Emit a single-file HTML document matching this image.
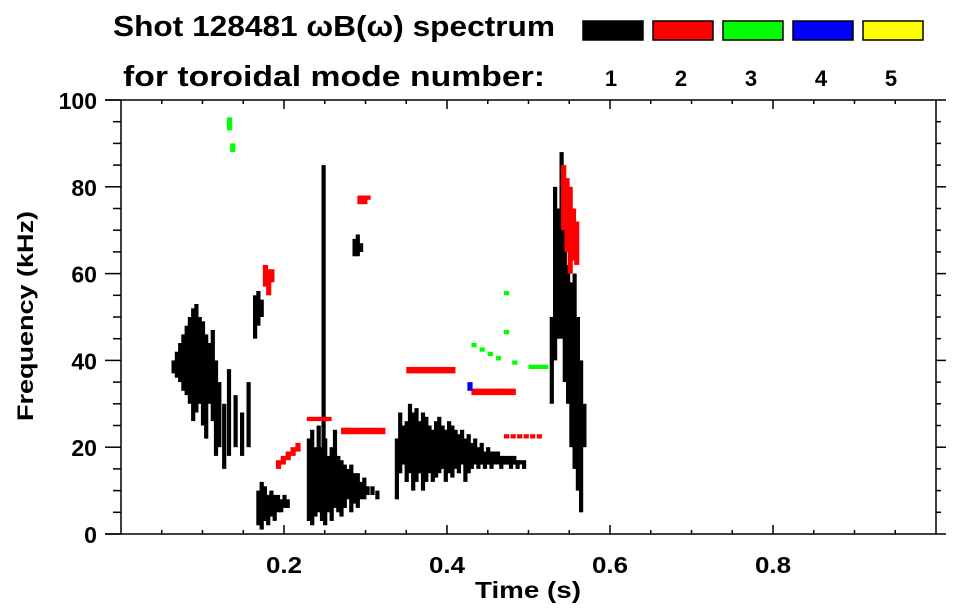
<!DOCTYPE html>
<html><head><meta charset="utf-8"><style>
body{margin:0;background:#fff;}
svg{display:block;font-family:"Liberation Sans",sans-serif;font-weight:bold;}
</style></head><body>
<svg id="c" width="963" height="615"></svg>
<script>
// columns: time (s), low freq (kHz), high freq (kHz), toroidal mode
const times = [0.062,0.066,0.070,0.074,0.078,0.082,0.086,0.090,0.094,0.098,0.102,0.106,0.110,0.114,0.118,0.124,0.130,0.138,0.146,0.154,0.162,0.166,0.170,
0.166,0.170,0.174,0.178,0.182,0.186,0.190,0.194,0.198,0.202,
0.228,0.232,0.236,0.240,0.244,0.248,0.252,0.256,0.260,0.264,0.268,0.272,0.276,0.280,0.284,0.288,0.292,0.296,0.300,0.306,0.312,
0.246,0.284,0.288,0.292,
0.336,0.340,0.344,0.348,0.352,0.356,0.360,0.364,0.368,0.372,0.376,0.380,0.384,0.388,0.392,0.396,0.400,0.404,0.408,0.412,0.416,0.420,0.424,0.428,0.432,0.436,0.440,0.444,0.448,0.452,0.456,0.460,0.464,0.468,0.472,0.476,0.480,0.484,0.488,0.492,
0.526,0.530,0.534,0.538,0.542,0.546,0.550,0.554,0.558,0.562,0.566,
0.174,0.178,0.182,0.290,0.296,0.300,
0.270,0.276,0.282,0.288,0.294,0.300,0.306,0.312,0.318,
0.350,0.356,0.362,0.368,0.374,0.380,0.386,0.392,0.398,0.404,
0.430,0.436,0.442,0.448,0.454,0.460,0.466,0.472,0.478,
0.228,0.234,0.240,0.246,0.252,0.470,0.478,0.486,0.494,0.502,0.510,
0.190,0.196,0.202,0.208,0.214,
0.540,0.544,0.548,0.552,0.556,
0.130,0.134,0.430,0.440,0.450,0.460,0.470,0.480,0.500,0.506,0.512,0.518,0.470,
0.425];
const freqLow = [37,36,35,33,32,30,26,28,30,25,22,30,26,18,20,15,18,20,18,20,45,48,50,
2,1,3,2,4,3,5,5,6,6,
3,2,4,5,3,2,5,3,6,5,4,6,8,5,7,6,8,8,9,9,8,
3,64,64,65,
8,14,16,12,14,10,12,14,10,12,14,12,13,14,15,12,14,13,15,14,16,12,14,15,16,15,16,15,16,15,16,16,15,16,16,15,16,15,16,15,
30,40,45,45,35,30,20,15,10,5,20,
57,55,58,76,76,77,
23,23,23,23,23,23,23,23,23,
37,37,37,37,37,37,37,37,37,37,
32,32,32,32,32,32,32,32,32,
26,26,26,26,26,22,22,22,22,22,22,
15,16,17,18,19,
70,65,60,63,62,
93,88,43,42,41,40,46,39,38,38,38,38,55,
33];
const freqHigh = [40,42,44,46,48,50,52,53,50,49,46,44,47,40,35,30,38,32,28,35,55,56,54,
10,12,11,9,10,9,9,8,9,8,
22,24,20,25,20,22,18,20,24,18,17,16,15,16,14,14,12,13,11,11,10,
85,68,69,67,
22,28,25,26,30,28,29,26,28,27,25,24,26,27,25,24,26,25,24,23,24,22,23,21,22,20,21,19,20,19,19,19,18,18,18,18,18,17,17,17,
50,80,75,88,70,62,58,60,50,40,30,
62,61,61,78,78,78,
24.5,24.5,24.5,24.5,24.5,24.5,24.5,24.5,24.5,
38.5,38.5,38.5,38.5,38.5,38.5,38.5,38.5,38.5,38.5,
33.5,33.5,33.5,33.5,33.5,33.5,33.5,33.5,33.5,
27,27,27,27,27,23,23,23,23,23,23,
17,18,19,20,21,
85,82,80,75,72,
96,90,44,43,42,41,47,40,39,39,39,39,56,
35];
const modes = [1,1,1,1,1,1,1,1,1,1,1,1,1,1,1,1,1,1,1,1,1,1,1,
1,1,1,1,1,1,1,1,1,1,
1,1,1,1,1,1,1,1,1,1,1,1,1,1,1,1,1,1,1,1,1,
1,1,1,1,
1,1,1,1,1,1,1,1,1,1,1,1,1,1,1,1,1,1,1,1,1,1,1,1,1,1,1,1,1,1,1,1,1,1,1,1,1,1,1,1,
1,1,1,1,1,1,1,1,1,1,1,
2,2,2,2,2,2,
2,2,2,2,2,2,2,2,2,
2,2,2,2,2,2,2,2,2,2,
2,2,2,2,2,2,2,2,2,
2,2,2,2,2,2,2,2,2,2,2,
2,2,2,2,2,
2,2,2,2,2,
3,3,3,3,3,3,3,3,3,3,3,3,3,
4];
const xTicks = [0.2,0.4,0.6,0.8];
const yTicks = [0,20,40,60,80,100];
const modeLabels = ["1","2","3","4","5"];
const modeColors = ["#000","#f00","#0f0","#00f","#ff0"];

const NS="http://www.w3.org/2000/svg", svg=document.getElementById('c');
const X0=121,X1=936,Y0=534,Y1=100;
const xs=t=>X0+t*815, ys=f=>Y0-(f/100)*(Y0-Y1);
function mk(tag,attrs,parent){const e=document.createElementNS(NS,tag);for(const k in attrs)e.setAttribute(k,attrs[k]);(parent||svg).appendChild(e);return e;}

const g=mk('g',{});


for(let i=0;i<times.length;i++){
  const x=xs(times[i]), y=ys(freqHigh[i]), h=ys(freqLow[i])-y;
  const w = modes[i]===1 ? 4.2 : 5.2;
  const r=mk('rect',{x:x.toFixed(1),y:y.toFixed(1),width:w,height:Math.max(2,h).toFixed(1),fill:modeColors[modes[i]-1]},g);
  
  
}

// axes frame
const ax=mk('g',{stroke:'#000','stroke-width':1.5,fill:'none'});


mk('line',{x1:105,y1:Y0,x2:X1,y2:Y0},ax);
mk('line',{x1:105,y1:Y1,x2:X1,y2:Y1},ax);
mk('line',{x1:X0,y1:Y1,x2:X0,y2:Y0},ax);
mk('line',{x1:X1,y1:Y1,x2:X1,y2:Y0},ax);
for(let k=1;k<20;k++){const t=k*0.05,x=xs(t),L=(k%4==0)?9:4;
  mk('line',{x1:x,y1:Y0,x2:x,y2:Y0-L},ax);mk('line',{x1:x,y1:Y1,x2:x,y2:Y1+L},ax);}
for(let k=0;k<=20;k++){const y=ys(k*5),L=(k%4==0)?16:8;
  mk('line',{x1:X0,y1:y,x2:X0-L,y2:y},ax);mk('line',{x1:X1,y1:y,x2:X1+L/1.6,y2:y},ax);}

xTicks.forEach(t=>{const e=mk('text',{x:xs(t),y:573,'text-anchor':'middle','font-size':23,textLength:36,lengthAdjust:'spacingAndGlyphs'});e.textContent=t.toFixed(1);
  });
yTicks.forEach(f=>{const s=String(f);const e=mk('text',{x:97,y:ys(f)+9,'text-anchor':'end','font-size':23,textLength:s.length*12.8,lengthAdjust:'spacingAndGlyphs'});e.textContent=s;
  });
let e=mk('text',{x:475,y:598,'font-size':23,textLength:106,lengthAdjust:'spacingAndGlyphs'});e.textContent='Time (s)';

e=mk('text',{x:0,y:0,'text-anchor':'middle','font-size':22,textLength:210,lengthAdjust:'spacingAndGlyphs',transform:'translate(33,316) rotate(-90)'});e.textContent='Frequency (kHz)';

e=mk('text',{x:113,y:36,'font-size':29,textLength:442,lengthAdjust:'spacingAndGlyphs'});e.textContent='Shot 128481 \u03c9B(\u03c9) spectrum';

e=mk('text',{x:123,y:86,'font-size':29,textLength:422,lengthAdjust:'spacingAndGlyphs'});e.textContent='for toroidal mode number:';

modeLabels.forEach((m,i)=>{const x=583+i*70;
  const r=mk('rect',{x:x,y:21,width:60,height:19,fill:modeColors[i],stroke:'#000','stroke-width':1.5});
  
  const t=mk('text',{x:x+28,y:86,'text-anchor':'middle','font-size':22});t.textContent=m;
  });
</script>
</body></html>
